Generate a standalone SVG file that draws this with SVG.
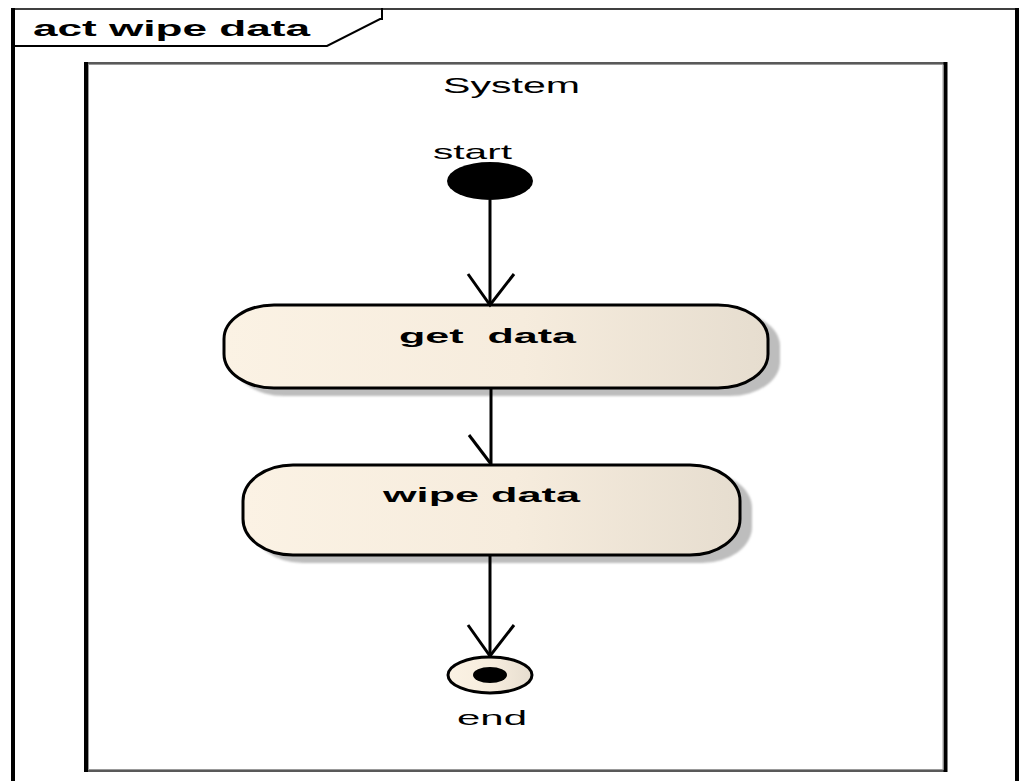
<svg xmlns="http://www.w3.org/2000/svg" width="1022" height="781" viewBox="0 0 1022 781">
  <style>
    .frame { fill: none; stroke: #000; }
    .label { font-family: "Liberation Sans", Arial, sans-serif; fill: #000; white-space: pre; }
    .bold { font-weight: bold; }
    .action { fill: url(#cream); stroke: #000; stroke-width: 3; }
    .shadow { fill: #bdbdbd; filter: url(#soft); }
    .flow { fill: none; stroke: #000; stroke-width: 3; }
  </style>
  <defs>
    <linearGradient id="cream" x1="0" y1="0" x2="1" y2="0">
      <stop offset="0" stop-color="#fbf2e4"/>
      <stop offset="0.55" stop-color="#f6ecdd"/>
      <stop offset="1" stop-color="#e6ddcf"/>
    </linearGradient>
    <filter id="soft" x="-5%" y="-10%" width="110%" height="120%">
      <feGaussianBlur stdDeviation="0.8"/>
    </filter>
  </defs>

  <rect width="1022" height="781" fill="#fff"/>

  <!-- outer activity frame with its name tab -->
  <g id="frame">
    <line class="frame" x1="13" y1="9" x2="1017" y2="9" stroke-width="1.5"/>
    <line class="frame" x1="13" y1="8" x2="13" y2="781" stroke-width="4"/>
    <line class="frame" x1="1017" y1="8" x2="1017" y2="781" stroke-width="4"/>
    <polyline class="frame" points="13,46 327,46 380,19 382,19 382,8" stroke-width="2"/>
    <text class="label bold" x="33" y="36" font-size="22" textLength="277" lengthAdjust="spacingAndGlyphs">act wipe data</text>
  </g>

  <!-- System partition -->
  <g id="system">
    <line x1="88" y1="63" x2="945" y2="63" stroke="#222" stroke-width="1.5"/>
    <line x1="88" y1="64.5" x2="945" y2="64.5" stroke="#999" stroke-width="1"/>
    <line x1="86" y1="771" x2="947" y2="771" stroke="#222" stroke-width="1.5"/>
    <line x1="86" y1="769.5" x2="943" y2="769.5" stroke="#999" stroke-width="1"/>
    <line x1="86" y1="62" x2="86" y2="772" stroke="#000" stroke-width="4"/>
    <line x1="88.5" y1="65" x2="88.5" y2="769" stroke="#999" stroke-width="1"/>
    <line x1="945.5" y1="62" x2="945.5" y2="772" stroke="#000" stroke-width="4"/>
    <line x1="943" y1="65" x2="943" y2="769" stroke="#999" stroke-width="1"/>
    <text class="label" x="443" y="93" font-size="22" textLength="137" lengthAdjust="spacingAndGlyphs">System</text>
  </g>

  <!-- initial node -->
  <g id="start">
    <ellipse cx="490" cy="181" rx="43" ry="19" fill="#000"/>
    <text class="label" x="433" y="159" font-size="21" textLength="79" lengthAdjust="spacingAndGlyphs">start</text>
  </g>

  <!-- action: get data -->
  <g id="get-data">
    <rect class="shadow" x="234" y="312" width="546" height="84" rx="50" ry="34"/>
    <rect class="action" x="224" y="305" width="544" height="83" rx="50" ry="34"/>
    <text class="label bold" x="399" y="343" font-size="21" textLength="177" lengthAdjust="spacingAndGlyphs">get  data</text>
  </g>

  <!-- action: wipe data -->
  <g id="wipe-data">
    <rect class="shadow" x="253" y="472" width="499" height="91" rx="50" ry="36"/>
    <rect class="action" x="243" y="465" width="497" height="90" rx="50" ry="36"/>
    <text class="label bold" x="383" y="502" font-size="21" textLength="197" lengthAdjust="spacingAndGlyphs">wipe data</text>
  </g>

  <!-- final node -->
  <g id="end">
    <ellipse cx="490" cy="675" rx="42" ry="18" fill="url(#cream)" stroke="#000" stroke-width="3"/>
    <ellipse cx="490" cy="675" rx="17" ry="8" fill="#000"/>
    <text class="label" x="457" y="725" font-size="21" textLength="70" lengthAdjust="spacingAndGlyphs">end</text>
  </g>

  <!-- control flows -->
  <g id="connectors">
    <line class="flow" x1="490" y1="200" x2="490" y2="305"/>
    <polyline class="flow" points="468,274 490,305 514,274"/>
    <line class="flow" x1="491" y1="388" x2="491" y2="464"/>
    <polyline class="flow" points="469,435 491,464"/>
    <line class="flow" x1="490" y1="555" x2="490" y2="657"/>
    <polyline class="flow" points="468,625 490,656 514,625"/>
  </g>
</svg>
